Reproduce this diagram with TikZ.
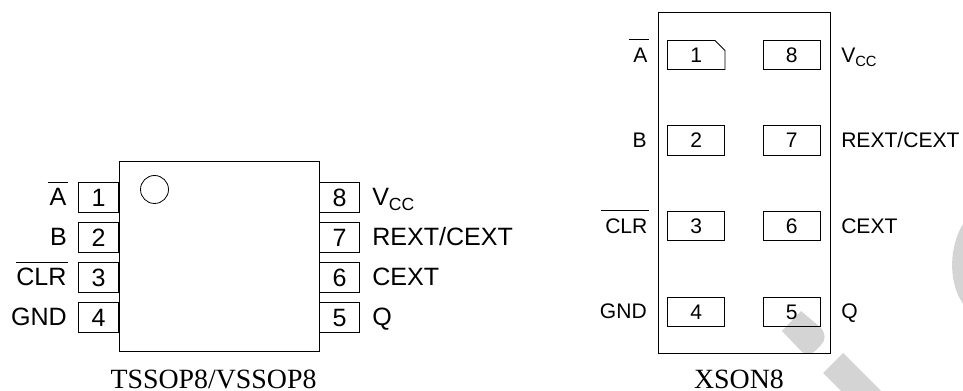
\documentclass[tikz,border=0pt]{standalone}
\usepackage{fontspec}
\setmainfont{Liberation Serif}
\setsansfont{Liberation Sans}
\newcommand{\ovl}[2]{\ensuremath{\overline{\mbox{\rule{0pt}{16.2pt}\hspace{#1}#2\hspace{1pt}}}}}
\tikzset{
    body/.style={draw, line width=0.7pt, inner sep=0pt},
    lead/.style={draw, line width=0.7pt, inner sep=0pt, minimum width=30.2pt, minimum height=22.5pt, text height=15pt, text depth=0pt, font=\sffamily\fontsize{18.8}{20}\selectfont},
    pad/.style={draw, line width=0.7pt, inner sep=0pt, minimum width=43pt, minimum height=21.8pt, font=\sffamily\fontsize{15.8}{18}\selectfont},
    biglabel/.style={inner sep=0pt, font=\sffamily\fontsize{18.8}{20}\selectfont},
    smalllabel/.style={inner sep=0pt, font=\sffamily\fontsize{15.8}{18}\selectfont},
    caption/.style={inner sep=0pt, anchor=base, font=\rmfamily\fontsize{20.9}{24}\selectfont}
}
\begin{document}
\begin{tikzpicture}[x=0.75pt, y=-0.75pt]
    \useasboundingbox (0,0) rectangle (963,391);

    % Watermark
    \fill[black!17] (782,331) -- (801,311) -- (820,327) .. controls (826,333) and (826,340) .. (821,345) -- (815,351) .. controls (811,355) and (805,355) .. (801,351) -- cycle;
    \fill[black!17] (823,373) -- (843,353) -- (881,391) -- (841,391) -- cycle;
    \fill[black!17] (963,224) .. controls (950,245) and (947,280) .. (963,304) -- cycle;

    % Left package
    \foreach \n/\y in {1/197,2/237,3/277,4/317} {
        \node[lead] (lead\n) at (98.5,\y) {\n};
    }
    \foreach \n/\y in {8/197,7/237,6/277,5/317} {
        \node[lead] (lead\n) at (339.5,\y) {\n};
    }
    \node[body, fill=white, minimum width=150.4pt, minimum height=142.1pt] (tssop) at (219.25,256.25) {};
    \draw[line width=0.6pt] (154.5,189.5) circle (14);

    \node[biglabel, anchor=base east] (la) at (68,205.8) {\ovl{1.5pt}{A}};
    \node[biglabel, anchor=base east] (lb) at (67,245.8) {B};
    \node[biglabel, anchor=base east] (lc) at (68,285.8) {\ovl{0pt}{CLR}};
    \node[biglabel, anchor=base east] (ld) at (67,325.8) {GND};
    \node[biglabel, anchor=base west] (lvcc) at (372,205.8) {V\textsubscript{CC}};
    \node[biglabel, anchor=base west] (lrext) at (372,245.8) {REXT/CEXT};
    \node[biglabel, anchor=base west] (lcext) at (372,285.8) {CEXT};
    \node[biglabel, anchor=base west] (lq) at (372,325.8) {Q};
    \node[caption] (captssop) at (213.5,388.5) {TSSOP8/VSSOP8};

    % Right package
    \node[body, minimum width=129pt, minimum height=256pt] (xson) at (744,183.25) {};
    \draw[line width=0.7pt] (667.5,40.5) -- (715,40.5) -- (725,50.5) -- (725,69.5) -- (667.5,69.5) -- cycle;
    \node[inner sep=0pt, font=\sffamily\fontsize{15.8}{18}\selectfont] (pad1) at (696.25,55) {1};
    \foreach \n/\y in {2/140.5,3/226,4/312} {
        \node[pad] (pad\n) at (696.25,\y) {\n};
    }
    \foreach \n/\y in {8/55,7/140.5,6/226,5/312} {
        \node[pad] (pad\n) at (791.75,\y) {\n};
    }

    \node[smalllabel, anchor=base east] (ra) at (649,63) {\ovl{3pt}{A}};
    \node[smalllabel, anchor=base east] (rb) at (647,148) {B};
    \node[smalllabel, anchor=base east] (rc) at (649,234) {\ovl{3pt}{CLR}};
    \node[smalllabel, anchor=base east] (rd) at (647,319) {GND};
    \node[smalllabel, anchor=base west] (rvcc) at (841,63) {V\textsubscript{CC}};
    \node[smalllabel, anchor=base west] (rrext) at (841,148) {REXT/CEXT};
    \node[smalllabel, anchor=base west] (rcext) at (841,234) {CEXT};
    \node[smalllabel, anchor=base west] (rq) at (841,319) {Q};
    \node[caption] (capxson) at (739,388.5) {XSON8};
\end{tikzpicture}
\end{document}
